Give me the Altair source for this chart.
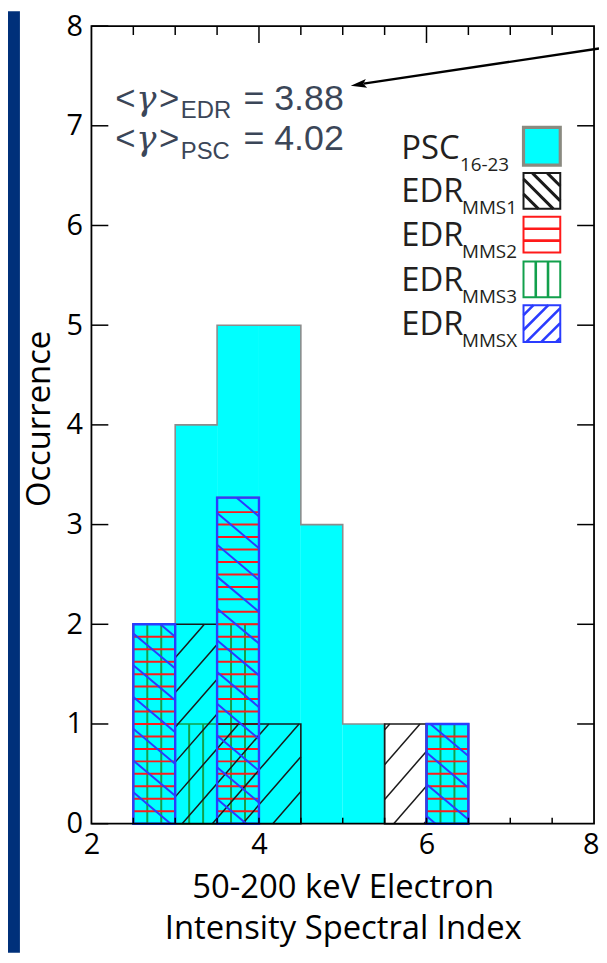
import math
import altair as alt
import pandas as pd

# ---------------- data ----------------
bin_lo = [2.5, 3.0, 3.5, 4.0, 4.5, 5.0, 5.5, 6.0]
bin_width = 0.5
psc = [2, 4, 5, 5, 3, 1, 0, 1]
mms1 = [0, 2, 1, 1, 0, 0, 1, 0]
mms2 = [2, 0, 3.27, 0, 0, 0, 0, 1]
mms3 = [2, 1, 2, 0, 0, 0, 0, 1]
mmsx = [2, 0, 3.27, 0, 0, 0, 0, 1]

x_domain = [2, 8]
y_domain = [0, 8]
x_labels = [2, 4, 6, 8]
y_labels = [0, 1, 2, 3, 4, 5, 6, 7, 8]
x_minor = [2.5, 3.0, 3.5, 4.0, 4.5, 5.0, 5.5, 6.0, 6.5, 7.0, 7.5]
x_title = ["50-200 keV Electron", "Intensity Spectral Index"]
y_title = "Occurrence"
gamma_edr = "= 3.88"
gamma_psc = "= 4.02"
legend_main = ["PSC", "EDR", "EDR", "EDR", "EDR"]
legend_sub = ["16-23", "MMS1", "MMS2", "MMS3", "MMSX"]

# ---------------- layout ----------------
W, H = 506, 803
PAD = {"left": 84, "top": 15, "right": 5, "bottom": 130}
PXX = W / (x_domain[1] - x_domain[0])
PXY = H / (y_domain[1] - y_domain[0])
ORG_X = 8 + PAD["left"]          # page x of x_domain[0]
ORG_Y = 8 + PAD["top"] + H       # page y of y = 0


def dx(px):
    return x_domain[0] + (px - ORG_X) / PXX


def dy(py):
    return (ORG_Y - py) / PXY


FONT = "Open Sans"
xscale = alt.Scale(domain=x_domain, nice=False, zero=False)
yscale = alt.Scale(domain=y_domain, nice=False, zero=False)
x_axis = alt.Axis(values=x_labels, ticks=False, tickSize=0, domain=False, grid=False,
                  labelFontSize=29, labelPadding=7, labelFlush=False,
                  labelAlign=alt.ExprRef("datum.value == 8 ? 'right' : 'center'"),
                  labelOffset=alt.ExprRef("datum.value == 8 ? 5 : 0"),
                  title=x_title, titleFontSize=33, titleFontWeight="normal",
                  titleLineHeight=42, titleBaseline="alphabetic", titleY=74)
y_axis = alt.Axis(values=y_labels, ticks=False, tickSize=0, domain=False, grid=False,
                  labelFontSize=29, labelPadding=9,
                  title=y_title, titleFontSize=33, titleFontWeight="normal",
                  titleAngle=270, titleBaseline="middle", titleAlign="center",
                  titleX=-52, titleY=395)


def X(f):
    return alt.X(f + ":Q", scale=xscale, axis=x_axis)


def Y(f):
    return alt.Y(f + ":Q", scale=yscale, axis=y_axis)


def bars(vals):
    rows = []
    for lo, v in zip(bin_lo, vals):
        if v > 0:
            rows.append({"x0": lo, "x1": lo + bin_width, "h": v, "b": 0})
    return pd.DataFrame(rows)


def hatch(x0, x1, y0, y1, slope, spacing, phase):
    X0, X1 = (x0 - x_domain[0]) * PXX, (x1 - x_domain[0]) * PXX
    Y0, Y1 = y0 * PXY, y1 * PXY
    cs = [Yc - slope * Xc for Xc in (X0, X1) for Yc in (Y0, Y1)]
    kmin = math.ceil((min(cs) - phase) / spacing)
    kmax = math.floor((max(cs) - phase) / spacing)
    segs = []
    for k in range(kmin, kmax + 1):
        c = phase + k * spacing
        a, b = sorted([(Y0 - c) / slope, (Y1 - c) / slope])
        lo, hi = max(a, X0), min(b, X1)
        if hi - lo > 0.8:
            segs.append({
                "x": x_domain[0] + lo / PXX, "y": (c + slope * lo) / PXY,
                "x2": x_domain[0] + hi / PXX, "y2": (c + slope * hi) / PXY,
            })
    return segs


def diag_segments(vals, slope, spacing, phase):
    segs = []
    for lo, v in zip(bin_lo, vals):
        if v > 0:
            segs += hatch(lo, lo + bin_width, 0, v, slope, spacing, phase)
    return pd.DataFrame(segs)


def horiz_segments(vals, step=0.125):
    segs = []
    for lo, v in zip(bin_lo, vals):
        k = 1
        while k * step < v - 0.02:
            segs.append({"x": lo, "y": k * step, "x2": lo + bin_width, "y2": k * step})
            k += 1
    return pd.DataFrame(segs)


def vert_segments(vals, n=3):
    segs = []
    for lo, v in zip(bin_lo, vals):
        if v > 0:
            for j in range(1, n):
                xx = lo + j * bin_width / n
                segs.append({"x": xx, "y": 0, "x2": xx, "y2": v})
    return pd.DataFrame(segs)


def rules(df, color, width):
    return alt.Chart(df).mark_rule(color=color, strokeWidth=width).encode(
        x=X("x"), y=Y("y"), x2=alt.X2("x2"), y2=alt.Y2("y2"))


def outline(df, color, width):
    return alt.Chart(df).mark_rect(filled=False, stroke=color, strokeWidth=width).encode(
        x=X("x0"), x2=alt.X2("x1"), y=Y("b"), y2=alt.Y2("h"))


CYAN = "#00ffff"
GRAY = "#8c8c8c"
RED = "#ff1a1a"
GREEN = "#12a04c"
BLACK = "#1a1a1a"
BLUE = "#2a3cff"
TXT = "#231f20"
ANN = "#3b4658"

one = pd.DataFrame({"a": [0]})
layers = []

# PSC filled histogram
psc_df = bars(psc)
layers.append(alt.Chart(psc_df).mark_rect(color=CYAN).encode(
    x=X("x0"), x2=alt.X2("x1"), y=Y("b"), y2=alt.Y2("h")))

# slide background strip
layers.append(alt.Chart(one).mark_rect(color="#00307a").encode(
    x=alt.value(-PAD["left"]), x2=alt.value(-PAD["left"] + 12),
    y=alt.value(-PAD["top"]), y2=alt.value(H + PAD["bottom"])))

# PSC step outline
step_pts = [{"i": 0, "x": bin_lo[0], "y": 0}]
for i, (lo, v) in enumerate(zip(bin_lo, psc)):
    step_pts.append({"i": i + 1, "x": lo, "y": v})
step_pts.append({"i": len(bin_lo) + 1, "x": bin_lo[-1] + bin_width, "y": 0})
layers.append(alt.Chart(pd.DataFrame(step_pts)).mark_line(
    interpolate="step-after", color=GRAY, strokeWidth=1.6).encode(
    x=X("x"), y=Y("y"), order="i:Q"))

# EDR MMS3 (green vertical)
layers.append(rules(vert_segments(mms3), GREEN, 2))
layers.append(outline(bars(mms3), GREEN, 1.6))
# EDR MMS2 (red horizontal)
layers.append(rules(horiz_segments(mms2), RED, 2))
layers.append(outline(bars(mms2), RED, 1.6))
# EDR MMS1 (black diagonal)
layers.append(rules(diag_segments(mms1, 1.15, 35, 0), BLACK, 1.5))
layers.append(outline(bars(mms1), BLACK, 1.6))
# EDR MMSX (blue diagonal)
layers.append(rules(diag_segments(mmsx, -0.84, 32, 3), BLUE, 2))
layers.append(outline(bars(mmsx), BLUE, 2.4))

# inward ticks
layers.append(alt.Chart(pd.DataFrame({"v": y_labels})).mark_rule(color="black", strokeWidth=1.5).encode(
    y=Y("v"), x=alt.value(0), x2=alt.value(17)))
layers.append(alt.Chart(pd.DataFrame({"v": y_labels[1:-1]})).mark_rule(color="black", strokeWidth=1.5).encode(
    y=Y("v"), x=alt.value(W - 17), x2=alt.value(W)))
top_major = [v for v in x_minor if v in x_labels]
top_minor = [v for v in x_minor if v not in x_labels]
layers.append(alt.Chart(pd.DataFrame({"v": top_major})).mark_rule(color="black", strokeWidth=1.5).encode(
    x=X("v"), y=alt.value(0), y2=alt.value(17)))
layers.append(alt.Chart(pd.DataFrame({"v": top_minor})).mark_rule(color="black", strokeWidth=1.5).encode(
    x=X("v"), y=alt.value(0), y2=alt.value(9)))
layers.append(alt.Chart(pd.DataFrame({"v": x_minor})).mark_rule(color="black", strokeWidth=1.5).encode(
    x=X("v"), y=alt.value(H - 6), y2=alt.value(H)))

# frame
layers.append(alt.Chart(one).mark_rect(filled=False, stroke="black", strokeWidth=1.8).encode(
    x=alt.value(0), x2=alt.value(W), y=alt.value(0), y2=alt.value(H)))

# ---------------- legend ----------------
sw_x0, sw_x1 = 527, 564
sw_tops = [125, 171, 215, 260, 304]
sw_bots = [163, 207, 251, 296, 341]
sw_fill = [CYAN, "transparent", "transparent", "transparent", "transparent"]
sw_stroke = ["#8a8a80", BLACK, RED, GREEN, BLUE]
sw_sw = [3.2, 2, 2, 2, 2]
sw_df = pd.DataFrame({
    "x0": [dx(sw_x0)] * 5, "x1": [dx(sw_x1)] * 5,
    "y0": [dy(b) for b in sw_bots], "y1": [dy(t) for t in sw_tops],
    "fill": sw_fill, "stroke": sw_stroke, "sw": sw_sw})

lg_black = hatch(dx(sw_x0), dx(sw_x1), dy(sw_bots[1]), dy(sw_tops[1]), -1.0, 15, 4)
lg_blue = hatch(dx(sw_x0), dx(sw_x1), dy(sw_bots[4]), dy(sw_tops[4]), 1.0, 15, 2)
lg_red, lg_green = [], []
for j in (1, 2):
    yy = dy(sw_tops[2] + j * (sw_bots[2] - sw_tops[2]) / 3)
    lg_red.append({"x": dx(sw_x0), "y": yy, "x2": dx(sw_x1), "y2": yy})
    xx = dx(sw_x0 + j * (sw_x1 - sw_x0) / 3)
    lg_green.append({"x": xx, "y": dy(sw_bots[3]), "x2": xx, "y2": dy(sw_tops[3])})
layers.append(rules(pd.DataFrame(lg_black), BLACK, 3))
layers.append(rules(pd.DataFrame(lg_blue), BLUE, 2.6))
layers.append(rules(pd.DataFrame(lg_red), RED, 2.6))
layers.append(rules(pd.DataFrame(lg_green), GREEN, 2.6))
layers.append(alt.Chart(sw_df).mark_rect().encode(
    x=X("x0"), x2=alt.X2("x1"), y=Y("y0"), y2=alt.Y2("y1"),
    fill=alt.Fill("fill:N", scale=None), stroke=alt.Stroke("stroke:N", scale=None),
    strokeWidth=alt.StrokeWidth("sw:Q", scale=None)))

lg_base = [156.5, 200, 244, 289.5, 334.5]
lg_rows = []
for m, s, b in zip(legend_main, legend_sub, lg_base):
    lg_rows.append({"t": m, "x": dx(404), "y": dy(b), "s": 33})
    lg_rows.append({"t": s, "x": dx(463 if s == "16-23" else 465), "y": dy(b + 12), "s": 19})
layers.append(alt.Chart(pd.DataFrame(lg_rows)).mark_text(
    align="left", baseline="alphabetic", font=FONT, color=TXT).encode(
    x=X("x"), y=Y("y"), text="t:N", size=alt.Size("s:Q", scale=None)))

# ---------------- annotation ----------------
ann_rows = []
for base, sub, val in [(107, "EDR", gamma_edr), (148, "PSC", gamma_psc)]:
    ann_rows.append({"t": "<", "x": dx(116), "y": dy(base), "s": 35})
    ann_rows.append({"t": ">", "x": dx(160), "y": dy(base), "s": 35})
    ann_rows.append({"t": sub, "x": dx(182), "y": dy(base + 9), "s": 24})
    ann_rows.append({"t": val, "x": dx(245), "y": dy(base), "s": 36})
layers.append(alt.Chart(pd.DataFrame(ann_rows)).mark_text(
    align="left", baseline="alphabetic", font="Liberation Sans", color=ANN).encode(
    x=X("x"), y=Y("y"), text="t:N", size=alt.Size("s:Q", scale=None)))
gam_rows = [{"t": "γ", "x": dx(137), "y": dy(b), "s": 34} for b in (107, 148)]
layers.append(alt.Chart(pd.DataFrame(gam_rows)).mark_text(
    align="left", baseline="alphabetic", font="DejaVu Serif", fontStyle="italic", color=ANN).encode(
    x=X("x"), y=Y("y"), text="t:N", size=alt.Size("s:Q", scale=None)))

# arrow
arrow_df = pd.DataFrame({"x": [dx(603), dx(366)], "y": [dy(45.6), dy(81)]})
layers.append(alt.Chart(arrow_df).mark_line(color="black", strokeWidth=2.4).encode(
    x=X("x"), y=Y("y")))
head_df = pd.DataFrame({"x": [dx(361)], "y": [dy(81.8)]})
layers.append(alt.Chart(head_df).mark_point(
    shape="M -1 0 L 1 -0.55 L 0.6 0 L 1 0.55 Z", size=256, angle=351.5,
    filled=True, color="black", opacity=1, strokeWidth=0).encode(x=X("x"), y=Y("y")))

chart = alt.layer(*layers).properties(
    width=W, height=H, padding=PAD,
    autosize=alt.AutoSizeParams(type="none"),
    background="white",
).configure_view(stroke=None).configure_axis(
    labelFont=FONT, titleFont=FONT, labelColor="black", titleColor="black")

chart.save("out.html", embed_options={"renderer": "svg", "actions": False})
